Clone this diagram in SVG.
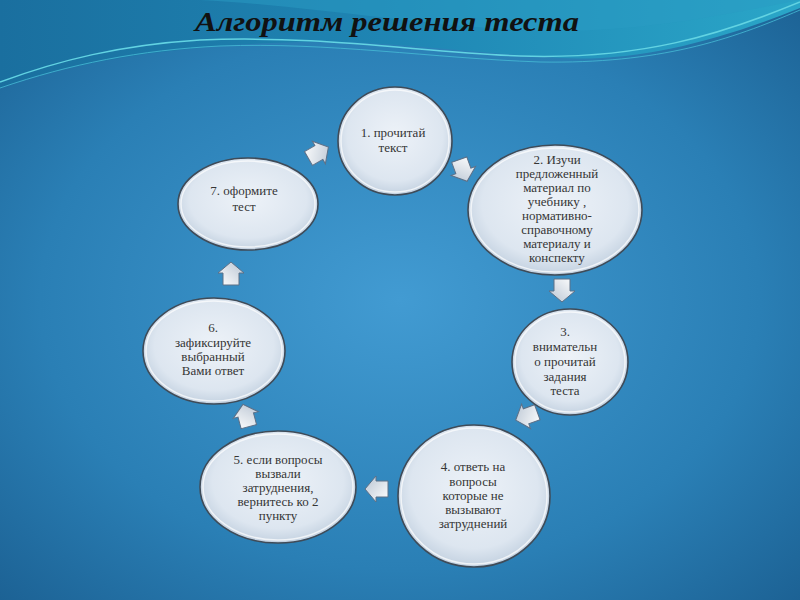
<svg xmlns="http://www.w3.org/2000/svg" width="800" height="600" viewBox="0 0 800 600">
<defs>
<radialGradient id="bg" cx="0.5" cy="0.5" r="0.75">
<stop offset="0" stop-color="#429bd2"/>
<stop offset="0.6" stop-color="#2a7fb5"/>
<stop offset="1" stop-color="#1a5d8f"/>
</radialGradient>
<linearGradient id="top" x1="0" y1="0" x2="1" y2="0">
<stop offset="0" stop-color="#1a6f9f"/>
<stop offset="0.5" stop-color="#1f86b4"/>
<stop offset="1" stop-color="#2aa6c8"/>
</linearGradient>
<radialGradient id="node" cx="0.5" cy="0.45" r="0.6">
<stop offset="0" stop-color="#edf2f8"/>
<stop offset="0.7" stop-color="#dde6f0"/>
<stop offset="1" stop-color="#b9c9da"/>
</radialGradient>
<linearGradient id="arr" x1="0" y1="0" x2="1" y2="1">
<stop offset="0" stop-color="#ffffff"/>
<stop offset="1" stop-color="#b8c4d2"/>
</linearGradient>
<path id="ar" d="M-11,-8 H1 V-13 L12,0 L1,13 V8 H-11 Z"/>
<style>
.n ellipse.o{fill:url(#node);stroke:#3f4b58;stroke-width:1.6}
.n ellipse.i{fill:none;stroke:#ffffff;stroke-opacity:0.7;stroke-width:1.5}
.n text{font-family:"Liberation Serif","Times New Roman",serif;font-size:13px;fill:#353535;text-anchor:middle}
#connectors use{fill:url(#arr);stroke:#5d7087;stroke-width:1}
</style>
</defs>
<rect width="800" height="600" fill="url(#bg)"/>
<path d="M0,0 H800 V8 C720,40 640,62 560,58 C460,52 380,40 300,42 C180,45 80,60 0,88 Z" fill="url(#top)"/>
<path d="M0,0 H800 V0 C700,20 620,35 520,30 C420,25 300,5 200,0 Z" fill="#2a9cc3" opacity="0.5"/>
<path d="M0,82 C60,60 120,45 200,40 C320,35 420,52 520,56 C640,60 720,35 800,2" fill="none" stroke="#62d3e2" stroke-width="1.5"/>
<path d="M0,88 C70,64 140,50 220,46 C330,42 430,58 540,62 C660,64 730,40 800,10" fill="none" stroke="#46bcd6" stroke-width="1" opacity="0.8"/>
<text x="387" y="31" text-anchor="middle" font-family="Liberation Serif, serif" font-style="italic" font-weight="bold" font-size="28" fill="#111" textLength="384" lengthAdjust="spacingAndGlyphs">Алгоритм решения теста</text>

<g id="connectors">
<use href="#ar" transform="translate(318,153) rotate(-30)"/>
<use href="#ar" transform="translate(463,170) rotate(70)"/>
<use href="#ar" transform="translate(562,290) rotate(90)"/>
<use href="#ar" transform="translate(527,416) rotate(160)"/>
<use href="#ar" transform="translate(377,489) rotate(180)"/>
<use href="#ar" transform="translate(246,416) rotate(-105)"/>
<use href="#ar" transform="translate(231,274) rotate(-90)"/>
</g>

<g id="node1" class="n">
<ellipse class="o" cx="395" cy="141" rx="57" ry="54"/>
<ellipse class="i" cx="395" cy="141" rx="54" ry="51"/>
<text x="393" y="137">1. прочитай</text>
<text x="393" y="152">текст</text>
</g>
<g id="node2" class="n">
<ellipse class="o" cx="555" cy="210" rx="87" ry="65"/>
<ellipse class="i" cx="555" cy="210" rx="84" ry="62"/>
<text x="557" y="164">2. Изучи</text>
<text x="557" y="178">предложенный</text>
<text x="557" y="192">материал  по</text>
<text x="557" y="206">учебнику ,</text>
<text x="557" y="220">нормативно-</text>
<text x="557" y="234">справочному</text>
<text x="557" y="248">материалу  и</text>
<text x="557" y="262">конспекту</text>
</g>
<g id="node3" class="n">
<ellipse class="o" cx="570" cy="362" rx="58" ry="53"/>
<ellipse class="i" cx="570" cy="362" rx="55" ry="50"/>
<text x="565" y="336">3.</text>
<text x="565" y="351">внимательн</text>
<text x="565" y="366">о прочитай</text>
<text x="565" y="381">задания</text>
<text x="565" y="395">теста</text>
</g>
<g id="node4" class="n">
<ellipse class="o" cx="474" cy="496" rx="76" ry="71"/>
<ellipse class="i" cx="474" cy="496" rx="73" ry="68"/>
<text x="473" y="471">4. ответь на</text>
<text x="473" y="486">вопросы</text>
<text x="473" y="500">которые не</text>
<text x="473" y="514">вызывают</text>
<text x="473" y="528">затруднений</text>
</g>
<g id="node5" class="n">
<ellipse class="o" cx="278" cy="487" rx="78" ry="56"/>
<ellipse class="i" cx="278" cy="487" rx="75" ry="53"/>
<text x="278" y="464">5. если вопросы</text>
<text x="278" y="478">вызвали</text>
<text x="278" y="492">затруднения,</text>
<text x="278" y="506">вернитесь ко 2</text>
<text x="278" y="520">пункту</text>
</g>
<g id="node6" class="n">
<ellipse class="o" cx="214" cy="351" rx="71" ry="53"/>
<ellipse class="i" cx="214" cy="351" rx="68" ry="50"/>
<text x="213" y="332">6.</text>
<text x="213" y="347">зафиксируйте</text>
<text x="213" y="361">выбранный</text>
<text x="213" y="375">Вами ответ</text>
</g>
<g id="node7" class="n">
<ellipse class="o" cx="248" cy="204" rx="70" ry="46"/>
<ellipse class="i" cx="248" cy="204" rx="67" ry="43"/>
<text x="244" y="195">7. оформите</text>
<text x="244" y="211">тест</text>
</g>
</svg>
